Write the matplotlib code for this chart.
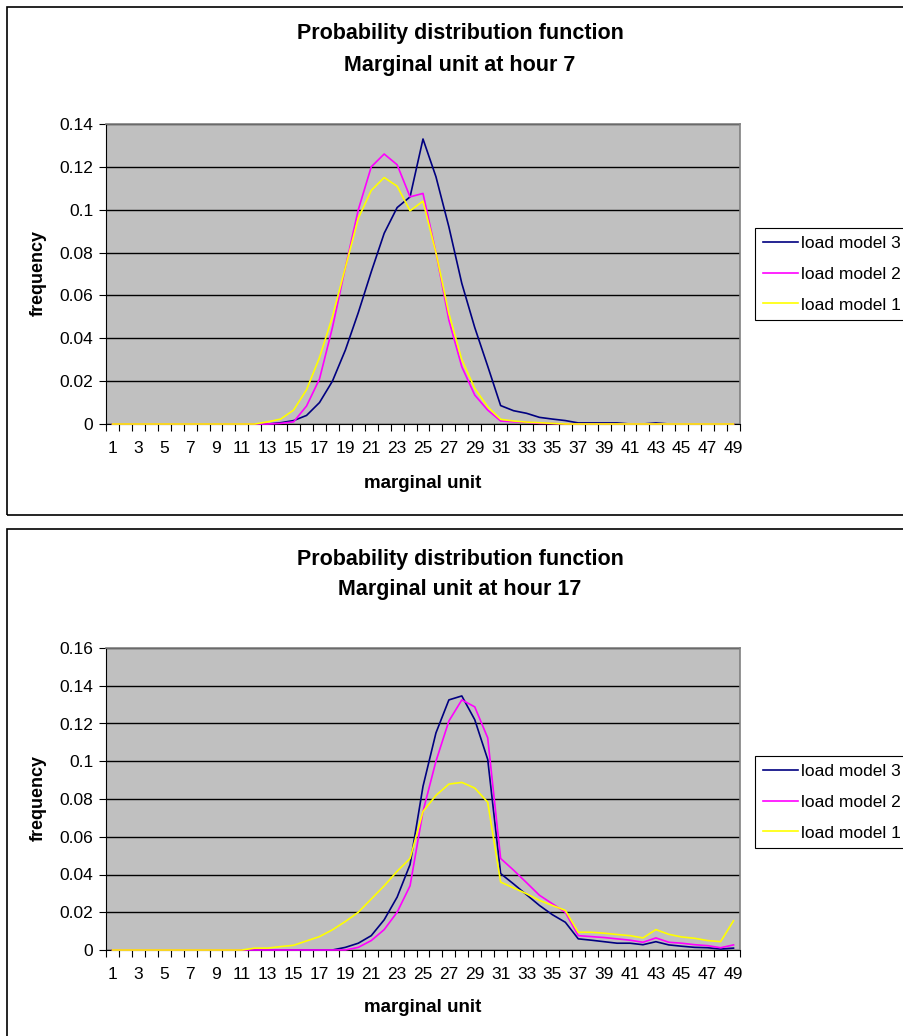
import matplotlib
matplotlib.use("Agg")
import matplotlib.pyplot as plt
from matplotlib.patches import Rectangle

plt.rcParams['font.family'] = ['Liberation Sans', 'DejaVu Sans']

units = list(range(1, 50))
tick_labels = [str(u) for u in units if u % 2 == 1]
series_names = ["load model 3", "load model 2", "load model 1"]
series_colors = ["#000080", "#FF00FF", "#FFFF00"]

# hour 7
h7_model3 = [0]*12 + [0.0, 0.0006, 0.0016, 0.004, 0.010, 0.020, 0.0345, 0.052, 0.071, 0.089,
                      0.101, 0.106, 0.133, 0.1154, 0.092, 0.0656, 0.045, 0.027, 0.0086, 0.0062,
                      0.005, 0.0031, 0.0023, 0.0016, 0.0005, 0.0005, 0.0005, 0.0005, 0.0, 0.0,
                      0.0005, 0, 0, 0, 0, 0, 0]
h7_model2 = [0]*12 + [0.0, 0.0003, 0.001, 0.0084, 0.021, 0.045, 0.073, 0.100, 0.120, 0.126,
                      0.121, 0.106, 0.1076, 0.080, 0.0485, 0.0267, 0.0135, 0.0065, 0.0014, 0.001,
                      0.0008, 0.0003, 0.0002, 0, 0, 0, 0, 0, 0, 0,
                      0, 0, 0, 0, 0, 0, 0]
h7_model1 = [0]*12 + [0.001, 0.0023, 0.0065, 0.016, 0.031, 0.050, 0.073, 0.096, 0.109, 0.115,
                      0.111, 0.0995, 0.104, 0.080, 0.0516, 0.030, 0.0166, 0.008, 0.0022, 0.0014,
                      0.0009, 0.0006, 0.0003, 0, 0, 0, 0, 0, 0, 0,
                      0, 0, 0, 0, 0, 0, 0]

# hour 17
h17_model3 = [0]*18 + [0.0014, 0.0036, 0.0076, 0.016, 0.028, 0.0453, 0.0867, 0.115, 0.1325, 0.1346,
                       0.122, 0.101, 0.0405, 0.035, 0.0293, 0.0236, 0.0187, 0.0147, 0.0059, 0.0052,
                       0.0044, 0.0036, 0.0036, 0.0028, 0.0044, 0.0027, 0.002, 0.0014, 0.0012, 0.0005,
                       0.001]
h17_model2 = [0]*19 + [0.0014, 0.005, 0.0108, 0.020, 0.034, 0.0734, 0.100, 0.1213, 0.1325,
                       0.1288, 0.1124, 0.0485, 0.0423, 0.0357, 0.029, 0.0245, 0.020, 0.0076, 0.0071,
                       0.0066, 0.0059, 0.0052, 0.0041, 0.0064, 0.0041, 0.0036, 0.0028, 0.0023, 0.0012,
                       0.0027]
h17_model1 = [0]*11 + [0.001, 0.001, 0.0018, 0.0025, 0.0048, 0.0071, 0.0107, 0.0151, 0.020, 0.027,
                       0.034, 0.0417, 0.0485, 0.0734, 0.0819, 0.0879, 0.0888, 0.0858, 0.0783, 0.036,
                       0.0329, 0.0298, 0.0263, 0.0236, 0.021, 0.0094, 0.0094, 0.0089, 0.0082, 0.0076,
                       0.0064, 0.0108, 0.0083, 0.0069, 0.0062, 0.005, 0.0044, 0.0155]

W, H = 904, 1036
fig = plt.figure(figsize=(W/100, H/100), dpi=100)

def fx(px): return px / W
def fy(py): return 1 - py / H

# chart boxes
fig.patches.append(Rectangle((fx(7), fy(515)), fx(1000), fy(7) - fy(515),
                             transform=fig.transFigure, fill=False, ec='black', lw=1.2))
fig.patches.append(Rectangle((fx(7), fy(1100)), fx(1000), fy(529) - fy(1100),
                             transform=fig.transFigure, fill=False, ec='black', lw=1.2))

TICK_FS = 12.5

def make_chart(top, bottom, ymax, hour, data, title_y1, title_y2, xlabel_y, legend_top):
    ax = fig.add_axes([fx(106), fy(bottom), fx(740) - fx(106), fy(top) - fy(bottom)])
    ax.set_facecolor('#C0C0C0')
    for name, color, vals in zip(series_names, series_colors, data):
        ax.plot(units, vals, color=color, lw=1.2, label=name, clip_on=False, zorder=3)
    ax.set_xlim(0.5, 49.5)
    ax.set_ylim(0, ymax)
    yt = [round(v * 0.02, 2) for v in range(int(round(ymax / 0.02)) + 1)]
    ax.set_yticks(yt)
    ax.set_yticklabels(['0' if v == 0 else ('%g' % v) for v in yt], fontsize=TICK_FS)
    ax.yaxis.grid(True, color='black', lw=1)
    ax.set_axisbelow(True)
    ax.set_xticks([u + 0.5 for u in range(0, 50)])
    ax.set_xticklabels([])
    ax.set_xticks([u for u in units if u % 2 == 1], minor=True)
    ax.set_xticklabels(tick_labels, minor=True, fontsize=TICK_FS)
    ax.tick_params(axis='x', which='major', direction='out', length=5, width=0.8, color='black')
    ax.tick_params(axis='x', which='minor', length=0, pad=12)
    ax.tick_params(axis='y', direction='out', length=5, width=0.8, pad=4)
    for s in ['top', 'right']:
        ax.spines[s].set_color('#808080')
        ax.spines[s].set_linewidth(1.2)
    for s in ['left', 'bottom']:
        ax.spines[s].set_color('black')
        ax.spines[s].set_linewidth(0.8)
    fig.text(fx(38), fy((top + bottom) / 2 - 1), 'frequency', rotation=90, ha='center', va='center',
             fontsize=13, fontweight='bold')
    fig.text(fx(460), fy(title_y1), 'Probability distribution function',
             ha='center', va='center', fontsize=15.5, fontweight='bold')
    fig.text(fx(460), fy(title_y2), 'Marginal unit at hour %d' % hour,
             ha='center', va='center', fontsize=15.5, fontweight='bold')
    fig.text(fx(423), fy(xlabel_y), 'marginal unit', ha='center', va='center',
             fontsize=13.5, fontweight='bold')
    leg = ax.legend(loc='upper left', bbox_to_anchor=(fx(755), fy(legend_top)),
                    bbox_transform=fig.transFigure, fancybox=False, framealpha=1,
                    edgecolor='black', fontsize=12.5, handlelength=2.0, handletextpad=0.2,
                    borderpad=0.45, labelspacing=0.9, borderaxespad=0)
    leg.get_frame().set_linewidth(0.8)
    return ax

make_chart(124, 424, 0.14, 7, [h7_model3, h7_model2, h7_model1], 34, 66, 484, 228)
make_chart(648, 950, 0.16, 17, [h17_model3, h17_model2, h17_model1], 559, 589, 1008, 756)

fig.savefig('out.png', dpi=100)
